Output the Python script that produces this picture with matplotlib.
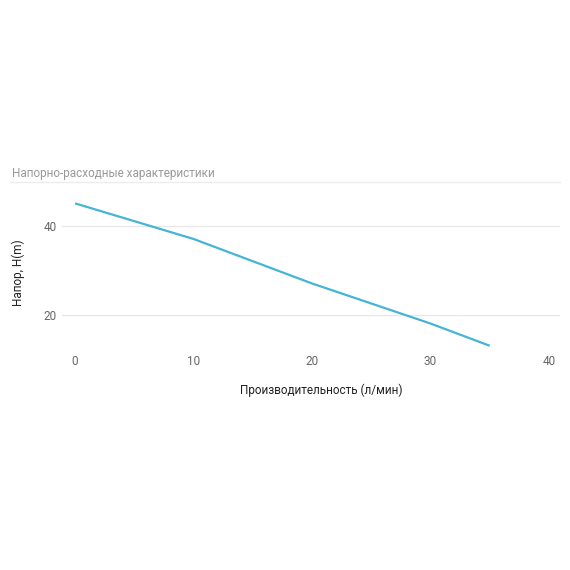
import matplotlib
matplotlib.use("Agg")
import matplotlib.pyplot as plt
from matplotlib.lines import Line2D

plt.rcParams['font.family'] = ['Roboto', 'DejaVu Sans']

flow = [0, 10, 20, 30, 35]
head = [45, 37, 27, 18, 13]
x_ticks = [0, 10, 20, 30, 40]
y_ticks = [20, 40]
title = "Напорно-расходные характеристики"
x_label = "Производительность (л/мин)"
y_label = "Напор, H(m)"

W = H = 570
fig = plt.figure(figsize=(5.7, 5.7), dpi=100)
ax = fig.add_axes([62 / W, 1 - 348 / H, (560 - 62) / W, (348 - 190) / H])
ax.plot(flow, head, color="#45b5d3", linewidth=1.6, solid_capstyle="butt", zorder=3)
ax.set_xlim(-1.1, 40.93)
ax.set_ylim(12.5, 48)
ax.set_xticks(x_ticks)
ax.set_yticks(y_ticks)
ax.grid(axis="y", color="#e8e8e8", linewidth=1.0)
ax.grid(axis="x", visible=False)
for s in ax.spines.values():
    s.set_visible(False)
ax.tick_params(axis="both", length=0, labelsize=8.5, labelcolor="#666666")
ax.tick_params(axis="x", pad=5)
ax.tick_params(axis="y", pad=4)

fig.text(12 / W, 1 - 173 / H, title, fontsize=8.5, color="#999999", va="center", ha="left")
fig.add_artist(Line2D([10 / W, 560 / W], [1 - 182 / H, 1 - 182 / H], color="#ececec", linewidth=1.0))
fig.text(321 / W, 1 - 390 / H, x_label, fontsize=8.5, color="#222222", ha="center", va="center")
fig.text(18 / W, 1 - 273 / H, y_label, fontsize=8.5, color="#222222", ha="center", va="center", rotation=90)

fig.savefig("out.png", dpi=100, facecolor="white")
